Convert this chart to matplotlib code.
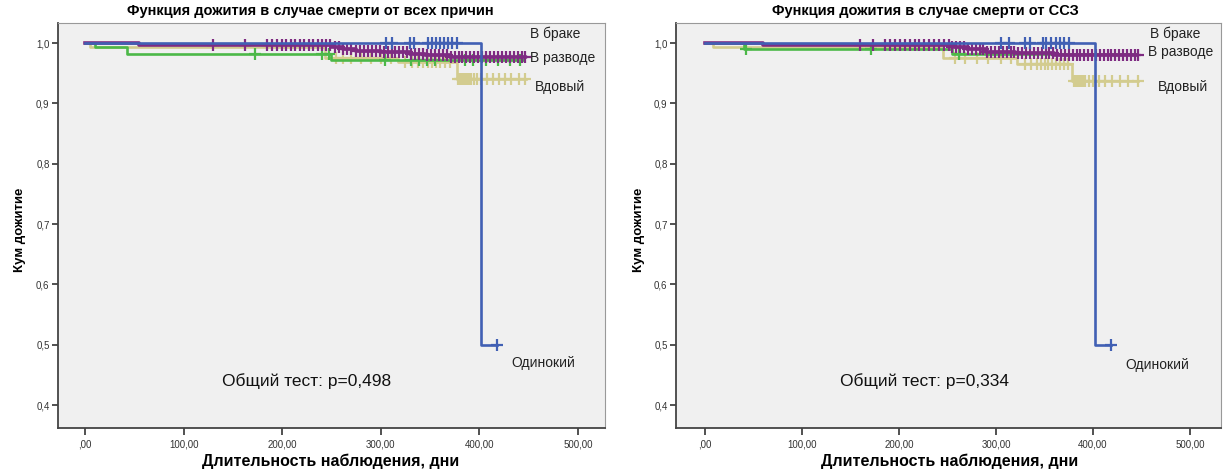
import numpy as np
import matplotlib
matplotlib.use("Agg")
import matplotlib.pyplot as plt

plt.rcParams['font.family'] = ['Liberation Sans', 'DejaVu Sans']

# ---- data: Kaplan-Meier steps (time, survival after the step) and censored times ----
GROUPS = ["Вдовый", "В разводе", "В браке", "Одинокий"]
COLORS = {"Вдовый": "#d3cc8f", "В разводе": "#4cb848",
          "В браке": "#7e2b82", "Одинокий": "#4160b4"}

# all-cause mortality
all_times = {
    "Вдовый":    [0, 5, 243, 318, 377, 447],
    "В разводе": [0, 10, 43, 250, 445],
    "В браке":   [0, 55, 250, 262, 275, 300, 330, 345, 370, 446],
    "Одинокий":  [0, 402, 418],
}
all_surv = {
    "Вдовый":    [1.0, 0.993, 0.975, 0.968, 0.940, 0.940],
    "В разводе": [1.0, 0.993, 0.982, 0.972, 0.972],
    "В браке":   [1.0, 0.997, 0.993, 0.990, 0.987, 0.985, 0.982, 0.980, 0.977, 0.977],
    "Одинокий":  [1.0, 0.5, 0.5],
}
all_censored = {
    "Вдовый":    [255, 262, 270, 280, 290, 300, 310, 325, 332, 338, 343, 348, 352, 356,
                  360, 365, 370, 378, 380, 382, 384, 386, 388, 390, 392, 395, 398, 402,
                  408, 414, 420, 426, 432, 440, 446],
    "В разводе": [172, 240, 248, 304, 331, 339, 347, 355, 386, 394, 407, 419, 431, 441],
    "В браке":   [130, 162, 185, 190, 195, 200, 204, 209, 213, 218, 222, 227, 231, 236,
                  240, 245, 249, 254, 258, 262, 266, 270, 275, 279, 283, 287, 291, 295,
                  299, 303, 307, 311, 315, 319, 323, 327, 331, 335, 339, 343, 347, 351,
                  355, 359, 363, 367, 371, 375, 379, 383, 387, 391, 395, 399, 403, 407,
                  411, 415, 419, 423, 427, 431, 435, 439, 443, 446],
    "Одинокий":  [305, 311, 330, 334, 348, 352, 356, 360, 364, 368, 372, 377, 418],
}

# cardiovascular mortality
cvd_times = {
    "Вдовый":    [0, 8, 245, 322, 378, 446],
    "В разводе": [0, 40, 255, 445],
    "В браке":   [0, 60, 255, 270, 290, 320, 360, 445],
    "Одинокий":  [0, 402, 418],
}
cvd_surv = {
    "Вдовый":    [1.0, 0.993, 0.975, 0.965, 0.938, 0.938],
    "В разводе": [1.0, 0.990, 0.982, 0.982],
    "В браке":   [1.0, 0.997, 0.994, 0.990, 0.986, 0.983, 0.980, 0.980],
    "Одинокий":  [1.0, 0.5, 0.5],
}
cvd_censored = {
    "Вдовый":    [258, 268, 280, 292, 305, 315, 330, 336, 342, 346, 350, 354, 358, 362,
                  366, 370, 374, 380, 382, 384, 386, 388, 390, 392, 396, 400, 406, 412,
                  420, 428, 436, 446],
    "В разводе": [42, 171, 262],
    "В браке":   [160, 173, 186, 191, 196, 201, 206, 211, 216, 221, 226, 231, 236, 241,
                  246, 251, 255, 259, 263, 267, 271, 275, 279, 283, 287, 291, 295, 299,
                  303, 307, 311, 315, 319, 323, 327, 331, 335, 339, 343, 347, 351, 355,
                  359, 363, 367, 371, 375, 379, 383, 387, 391, 395, 399, 403, 407, 411,
                  415, 419, 423, 427, 431, 435, 439, 443, 446],
    "Одинокий":  [305, 313, 330, 335, 348, 352, 357, 362, 366, 370, 375, 418],
}

x_ticks = [0, 100, 200, 300, 400, 500]
x_ticklabels = [",00", "100,00", "200,00", "300,00", "400,00", "500,00"]
y_ticks = [0.4, 0.5, 0.6, 0.7, 0.8, 0.9, 1.0]
y_ticklabels = ["0,4", "0,5", "0,6", "0,7", "0,8", "0,9", "1,0"]

# label text, x, y per panel
all_labels = [("В браке", 452, 1.015), ("В разводе", 452, 0.975),
              ("Вдовый", 456, 0.928), ("Одинокий", 433, 0.470)]
cvd_labels = [("В браке", 459, 1.015), ("В разводе", 457, 0.985),
              ("Вдовый", 467, 0.928), ("Одинокий", 433, 0.466)]


def surv_at(times, surv, t):
    idx = np.searchsorted(times, t, side="right") - 1
    return np.asarray(surv)[idx]


def draw_panel(ax, times, surv, censored, labels, p_text, xlim):
    for g in GROUPS:
        c = COLORS[g]
        lw = 2.6 if g == "В браке" else 1.9
        ax.step(times[g], surv[g], where="post", color=c, lw=lw, zorder=3)
        ct = np.array(censored[g])
        ax.plot(ct, surv_at(times[g], surv[g], ct), ls="none", marker="+",
                ms=8, mew=1.6, color=c, zorder=3)

    ax.set_facecolor("#f0f0f0")
    ax.set_xlim(*xlim)
    ax.set_ylim(0.362, 1.033)
    ax.set_xticks(x_ticks)
    ax.set_xticklabels(x_ticklabels)
    ax.set_yticks(y_ticks)
    ax.set_yticklabels(y_ticklabels)
    ax.tick_params(axis="both", labelsize=7, colors="#333333", direction="out")
    ax.tick_params(axis="x", length=5, width=1.2, pad=3)
    ax.tick_params(axis="y", length=4, width=1.2, pad=2)
    for side in ["top", "right"]:
        ax.spines[side].set_color("#999999")
    for side in ["left", "bottom"]:
        ax.spines[side].set_color("#444444")
        ax.spines[side].set_linewidth(1.3)

    for txt, x, y in labels:
        ax.text(x, y, txt, fontsize=10, color="#222222", va="center", ha="left")
    ax.text(xlim[0] + 0.5 * (xlim[1] - xlim[0]) - 25, 0.44, p_text, fontsize=12.5,
            ha="center", va="center", color="#111111")


fig = plt.figure(figsize=(12.25, 4.74), dpi=100)
ax1 = fig.add_axes([0.0473, 0.097, 0.4465, 0.854])
ax2 = fig.add_axes([0.5518, 0.097, 0.4450, 0.854])

draw_panel(ax1, all_times, all_surv, all_censored, all_labels,
           "Общий тест: p=0,498", (-27.5, 527.5))
draw_panel(ax2, cvd_times, cvd_surv, cvd_censored, cvd_labels,
           "Общий тест: p=0,334", (-30, 532))

fig.text(0.253, 0.976, "Функция дожития в случае смерти от всех причин",
         fontsize=10.5, fontweight="bold", ha="center", va="center")
fig.text(0.755, 0.976, "Функция дожития в случае смерти от ССЗ",
         fontsize=10.5, fontweight="bold", ha="center", va="center")
fig.text(0.270, 0.026, "Длительность наблюдения, дни",
         fontsize=11.5, fontweight="bold", ha="center", va="center")
fig.text(0.775, 0.026, "Длительность наблюдения, дни",
         fontsize=11.5, fontweight="bold", ha="center", va="center")
fig.text(0.016, 0.515, "Кум дожитие", fontsize=9.5, fontweight="bold",
         rotation=90, ha="center", va="center")
fig.text(0.522, 0.515, "Кум дожитие", fontsize=9.5, fontweight="bold",
         rotation=90, ha="center", va="center")

fig.savefig("out.png", dpi=100)
